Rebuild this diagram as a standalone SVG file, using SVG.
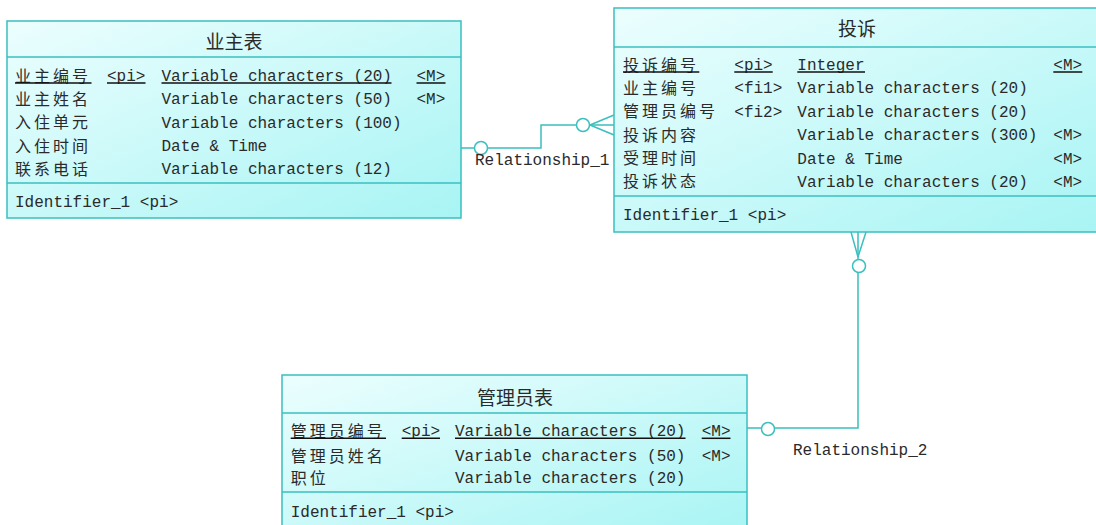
<svg xmlns="http://www.w3.org/2000/svg" width="1096" height="525" viewBox="0 0 1096 525">
<defs>
<linearGradient id="fill" x1="0" y1="0" x2="1" y2="1">
<stop offset="0" stop-color="#ecfefe"/>
<stop offset="1" stop-color="#a8f4f4"/>
</linearGradient>
<style>
.box{fill:url(#fill);stroke:#3bbfbf;stroke-width:1.5}
.sep{stroke:#3bbfbf;stroke-width:1.5}
.zh{font-family:"Noto Sans CJK SC","Noto Sans",sans-serif;font-size:16px;letter-spacing:3px;fill:#2a2a2a}
.ttl{font-family:"Noto Sans CJK SC","Noto Sans",sans-serif;font-size:19px;fill:#2a2a2a;text-anchor:middle}
.mono{font-family:"Liberation Mono","DejaVu Sans Mono",monospace;font-size:16px;fill:#2a2a2a}
.ul{stroke:#111;stroke-width:1.5}
.con{fill:none;stroke:#3bbfbf;stroke-width:1.5}
.circ{fill:#ffffff;stroke:#3bbfbf;stroke-width:1.5}
</style>
</defs>
<rect width="1096" height="525" fill="#ffffff"/>

<g id="connectors">
<!-- Relationship_1 -->
<polyline class="con" points="461,148 541,148 541,125 614,125"/>
<line class="con" x1="590" y1="125" x2="614" y2="115"/>
<line class="con" x1="590" y1="125" x2="614" y2="135"/>
<circle class="circ" cx="481" cy="148" r="6.5"/>
<circle class="circ" cx="583" cy="125" r="6.5"/>
<text class="mono" x="475" y="165">Relationship_1</text>
<!-- Relationship_2 -->
<polyline class="con" points="858,232 858,428 747,428"/>
<line class="con" x1="858" y1="257" x2="851" y2="232"/>
<line class="con" x1="858" y1="257" x2="866" y2="232"/>
<circle class="circ" cx="859" cy="266" r="6.5"/>
<circle class="circ" cx="768" cy="429" r="6.5"/>
<text class="mono" x="793" y="455">Relationship_2</text>
</g>

<g id="yezhu">
<rect class="box" x="7" y="21" width="454" height="197"/>
<line class="sep" x1="7" y1="57" x2="461" y2="57"/>
<line class="sep" x1="7" y1="183" x2="461" y2="183"/>
<text class="ttl" x="234" y="48.5">业主表</text>
<text class="zh" x="15" y="81.5">业主编号</text>
<text class="mono" x="107" y="81">&lt;pi&gt;</text>
<text class="mono" x="161.5" y="81">Variable characters (20)</text>
<text class="mono" x="416.5" y="81">&lt;M&gt;</text>
<line class="ul" x1="15" y1="83" x2="91.5" y2="83"/>
<line class="ul" x1="107" y1="83" x2="145.5" y2="83"/>
<line class="ul" x1="161.5" y1="83" x2="391.5" y2="83"/>
<line class="ul" x1="416.5" y1="83" x2="445.5" y2="83"/>
<text class="zh" x="15" y="104.8">业主姓名</text>
<text class="mono" x="161.5" y="104.3">Variable characters (50)</text>
<text class="mono" x="416.5" y="104.3">&lt;M&gt;</text>
<text class="zh" x="15" y="128.2">入住单元</text>
<text class="mono" x="161.5" y="127.7">Variable characters (100)</text>
<text class="zh" x="15" y="151.5">入住时间</text>
<text class="mono" x="161.5" y="151">Date &amp; Time</text>
<text class="zh" x="15" y="174.8">联系电话</text>
<text class="mono" x="161.5" y="174.3">Variable characters (12)</text>
<text class="mono" x="15" y="206.5">Identifier_1 &lt;pi&gt;</text>
</g>

<g id="tousu">
<rect class="box" x="614" y="8" width="490" height="224"/>
<line class="sep" x1="614" y1="47" x2="1096" y2="47"/>
<line class="sep" x1="614" y1="196" x2="1096" y2="196"/>
<text class="ttl" x="857" y="35.5">投诉</text>
<text class="zh" x="623" y="70.5">投诉编号</text>
<text class="mono" x="734.3" y="70">&lt;pi&gt;</text>
<text class="mono" x="797.3" y="70">Integer</text>
<text class="mono" x="1053.3" y="70">&lt;M&gt;</text>
<line class="ul" x1="623" y1="72" x2="699.3" y2="72"/>
<line class="ul" x1="734.3" y1="72" x2="772.7" y2="72"/>
<line class="ul" x1="797.3" y1="72" x2="865" y2="72"/>
<line class="ul" x1="1053.3" y1="72" x2="1082.3" y2="72"/>
<text class="zh" x="623" y="93.8">业主编号</text>
<text class="mono" x="734.3" y="93.3">&lt;fi1&gt;</text>
<text class="mono" x="797.3" y="93.3">Variable characters (20)</text>
<text class="zh" x="623" y="117.2">管理员编号</text>
<text class="mono" x="734.3" y="116.7">&lt;fi2&gt;</text>
<text class="mono" x="797.3" y="116.7">Variable characters (20)</text>
<text class="zh" x="623" y="140.5">投诉内容</text>
<text class="mono" x="797.3" y="140">Variable characters (300)</text>
<text class="mono" x="1053.3" y="140">&lt;M&gt;</text>
<text class="zh" x="623" y="164">受理时间</text>
<text class="mono" x="797.3" y="163.5">Date &amp; Time</text>
<text class="mono" x="1053.3" y="163.5">&lt;M&gt;</text>
<text class="zh" x="623" y="187.2">投诉状态</text>
<text class="mono" x="797.3" y="186.7">Variable characters (20)</text>
<text class="mono" x="1053.3" y="186.7">&lt;M&gt;</text>
<text class="mono" x="623" y="219.5">Identifier_1 &lt;pi&gt;</text>
</g>

<g id="guanliyuan">
<rect class="box" x="282" y="375" width="465" height="160"/>
<line class="sep" x1="282" y1="413" x2="747" y2="413"/>
<line class="sep" x1="282" y1="492" x2="747" y2="492"/>
<text class="ttl" x="515" y="405">管理员表</text>
<text class="zh" x="290.7" y="436.5">管理员编号</text>
<text class="mono" x="401.7" y="436">&lt;pi&gt;</text>
<text class="mono" x="455" y="436">Variable characters (20)</text>
<text class="mono" x="701.7" y="436">&lt;M&gt;</text>
<line class="ul" x1="290.7" y1="438.3" x2="386" y2="438.3"/>
<line class="ul" x1="401.7" y1="438.3" x2="440" y2="438.3"/>
<line class="ul" x1="455" y1="438.3" x2="685.5" y2="438.3"/>
<line class="ul" x1="701.7" y1="438.3" x2="730.5" y2="438.3"/>
<text class="zh" x="290.7" y="461.5">管理员姓名</text>
<text class="mono" x="455" y="461">Variable characters (50)</text>
<text class="mono" x="701.7" y="461">&lt;M&gt;</text>
<text class="zh" x="290.7" y="484.3">职位</text>
<text class="mono" x="455" y="483.3">Variable characters (20)</text>
<text class="mono" x="290.7" y="517">Identifier_1 &lt;pi&gt;</text>
</g>
</svg>
